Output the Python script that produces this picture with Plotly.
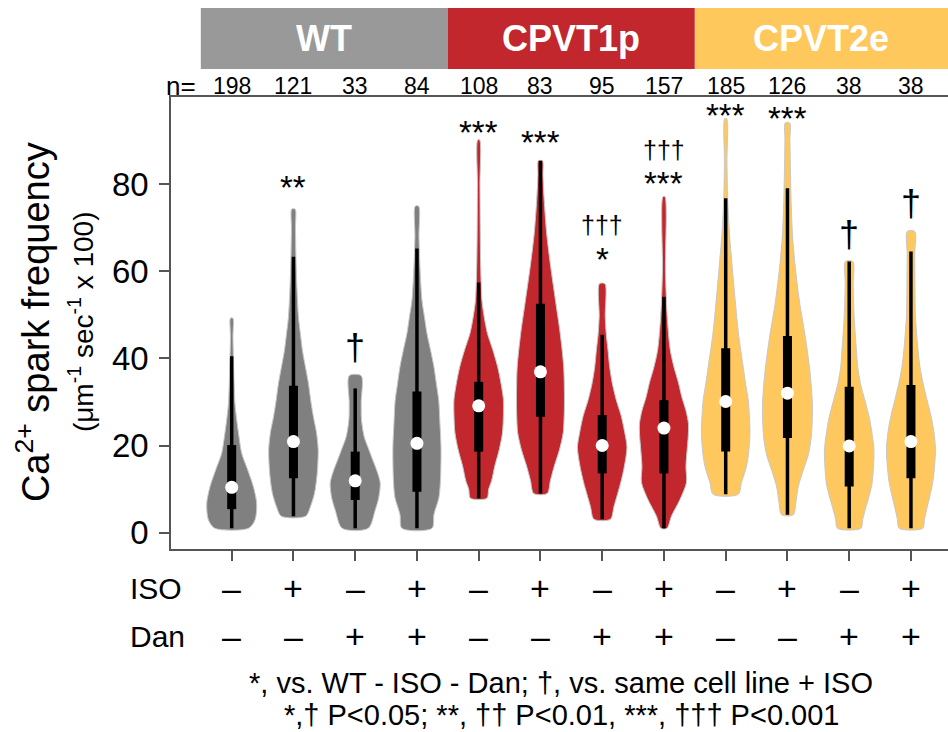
import plotly.graph_objects as go

# ---------------- data ----------------
groups = ["WT", "CPVT1p", "CPVT2e"]
n_counts = [198, 121, 33, 84, 108, 83, 95, 157, 185, 126, 38, 38]
iso_signs = ["–", "+", "–", "+", "–", "+", "–", "+", "–", "+", "–", "+"]
dan_signs = ["–", "–", "+", "+", "–", "–", "+", "+", "–", "–", "+", "+"]

whisker_low = [1.0, 3.8, 1.0, 1.0, 7.9, 9.0, 3.1, 1.0, 8.8, 4.1, 1.0, 1.0]
q1 = [5.4, 12.5, 7.5, 9.4, 18.6, 26.6, 13.6, 13.6, 18.6, 21.7, 10.6, 12.5]
median = [10.4, 20.9, 11.9, 20.5, 29.1, 36.9, 20.0, 24.0, 30.1, 32.0, 19.9, 20.9]
q3 = [20.1, 33.7, 18.6, 32.4, 34.6, 52.5, 27.0, 30.4, 42.3, 45.1, 33.5, 33.9]
whisker_high = [40.5, 63.3, 33.1, 65.2, 57.4, 85.3, 45.4, 54.1, 76.7, 79.0, 62.2, 64.5]

# violin outlines: value levels and relative density (half-width) at each level
profile_y = [
    [1.0, 2.9, 6.6, 10.5, 14.4, 18.2, 22.1, 25.9, 29.7, 37.4, 45, 49.2],
    [3.8, 6, 9, 13, 19, 23, 26.5, 30, 34.2, 38, 41.8, 45.5, 49.5, 56, 63, 70, 74.2],
    [1.0, 5.2, 8, 11.4, 14, 17, 19, 22, 26, 30, 36],
    [1.0, 4.2, 8.1, 12, 16, 20, 25, 30.4, 34, 38, 42, 45.7, 49.5, 53.3, 61, 68, 74.9],
    [7.9, 10, 12, 15.2, 19, 22.9, 27, 30.5, 34, 38, 42, 45.7, 49.5, 53.3, 61, 70, 80, 90.1],
    [9.0, 12, 15.2, 19, 22.9, 27, 30.5, 38, 45.7, 53.3, 61, 68.6, 76.3, 82, 85.3],
    [3.1, 6, 9, 11.7, 15, 19.6, 23, 26.8, 30.5, 34.4, 38, 42, 45.7, 49.7, 57.1],
    [1.0, 3.8, 7.6, 11.5, 15.2, 19.2, 22, 25, 28, 31, 34.4, 38, 42, 49.7, 60, 77.1],
    [8.8, 11.5, 15.2, 18.5, 22.9, 26.5, 30.5, 34, 38, 45.7, 53.3, 61, 68.6, 76.3, 85, 95],
    [4.1, 7, 10.5, 14.3, 18, 21.9, 25.5, 29.4, 33, 37, 44.7, 52.3, 60, 67.6, 75.3, 83, 90, 94],
    [1.0, 3, 5.9, 8.5, 11.2, 15, 18.9, 22.5, 26.5, 30.5, 34.2, 38, 41.8, 49.5, 57, 62.2],
    [1.0, 3, 5.9, 8.5, 11.5, 15, 19.2, 23, 26.8, 30.5, 34.4, 38, 42, 49.7, 57.3, 64, 69.1],
]
profile_density = [
    [0.67, 0.93, 1.0, 0.87, 0.64, 0.40, 0.29, 0.20, 0.13, 0.08, 0.05, 0.05],
    [0.49, 0.68, 0.84, 0.94, 0.99, 0.92, 0.80, 0.70, 0.60, 0.48, 0.36, 0.28, 0.20, 0.14, 0.10, 0.08, 0.07],
    [0.52, 0.80, 0.94, 1.0, 0.88, 0.68, 0.55, 0.36, 0.25, 0.24, 0.24],
    [0.60, 0.68, 0.88, 0.94, 0.96, 0.96, 0.92, 0.87, 0.78, 0.68, 0.54, 0.40, 0.30, 0.20, 0.12, 0.08, 0.07],
    [0.33, 0.40, 0.52, 0.64, 0.82, 0.95, 0.99, 0.99, 0.90, 0.76, 0.56, 0.35, 0.22, 0.13, 0.08, 0.06, 0.05, 0.04],
    [0.27, 0.40, 0.55, 0.76, 0.91, 0.95, 0.96, 0.93, 0.79, 0.60, 0.41, 0.25, 0.15, 0.10, 0.08],
    [0.33, 0.47, 0.62, 0.75, 0.88, 0.99, 0.90, 0.76, 0.56, 0.40, 0.30, 0.23, 0.16, 0.12, 0.11],
    [0.12, 0.30, 0.64, 0.90, 0.88, 0.93, 0.97, 0.98, 0.88, 0.72, 0.58, 0.40, 0.25, 0.13, 0.06, 0.04],
    [0.50, 0.63, 0.83, 0.92, 0.97, 0.95, 0.90, 0.80, 0.70, 0.51, 0.38, 0.26, 0.15, 0.08, 0.05, 0.04],
    [0.23, 0.34, 0.43, 0.63, 0.84, 0.95, 0.99, 1.0, 0.96, 0.90, 0.72, 0.50, 0.33, 0.21, 0.15, 0.12, 0.10, 0.09],
    [0.47, 0.54, 0.67, 0.80, 0.91, 0.97, 0.99, 0.92, 0.80, 0.62, 0.45, 0.34, 0.29, 0.20, 0.16, 0.15],
    [0.47, 0.54, 0.65, 0.76, 0.87, 0.94, 0.98, 0.92, 0.80, 0.64, 0.48, 0.36, 0.28, 0.18, 0.16, 0.15, 0.15],
]

# significance marks: which violin (1-based), text
sig_index = [2, 3, 5, 6, 7, 7, 8, 8, 9, 10, 11, 12]
sig_text = ["**", "†", "***", "***", "†††", "*", "†††", "***", "***", "***", "†", "†"]

footnote_1 = "*, vs. WT - ISO - Dan; †, vs. same cell line + ISO"
footnote_2 = "*,† P<0.05; **, †† P<0.01, ***, ††† P<0.001"
y_ticks = [0, 20, 40, 60, 80]

# ---------------- layout constants ----------------
FONT = "Liberation Sans, Arial, Helvetica, sans-serif"
header_colors = ["#999999", "#C1272D", "#FFC85C"]
violin_colors = ["#808080"] * 4 + ["#C1272D"] * 4 + ["#FEC85E"] * 4
positions = list(range(1, 13))
half_width = 0.405
x_range = [0.017, 12.6]
y_range = [-3.74, 99.95]
sig_y = [79.1, 42.6, 91.9, 89.4, 70.6, 62.7, 87.8, 80.2, 95.6, 95.1, 68.3, 75.6]

fig = go.Figure()

# violins
for i, p in enumerate(positions):
    ys = profile_y[i]
    ds = profile_density[i]
    xs_r = [p + d * half_width for d in ds]
    xs_l = [p - d * half_width for d in reversed(ds)]
    fig.add_trace(go.Scatter(
        x=xs_r + xs_l + [xs_r[0]],
        y=ys + list(reversed(ys)) + [ys[0]],
        mode="lines", fill="toself", fillcolor=violin_colors[i],
        line=dict(color="#c8c8c8", width=1, shape="spline", smoothing=0.8),
        hoverinfo="skip", showlegend=False,
    ))

# whiskers and boxes
wx, wy = [], []
bx, by = [], []
for i, p in enumerate(positions):
    wx += [p, p, None]
    wy += [whisker_low[i], whisker_high[i], None]
    bx += [p, p, None]
    by += [q1[i], q3[i], None]
fig.add_trace(go.Scatter(x=wx, y=wy, mode="lines", line=dict(color="black", width=3.5),
                         hoverinfo="skip", showlegend=False))
fig.add_trace(go.Scatter(x=bx, y=by, mode="lines", line=dict(color="black", width=9),
                         hoverinfo="skip", showlegend=False))
fig.add_trace(go.Scatter(x=positions, y=median, mode="markers",
                         marker=dict(color="white", size=13, line=dict(width=0)),
                         hoverinfo="skip", showlegend=False))

annotations = []
# significance marks
for idx, txt, yv in zip(sig_index, sig_text, sig_y):
    if "†" in txt:
        size = 36 if len(txt) == 1 else 25
    else:
        size = 33
    annotations.append(dict(x=idx, y=yv, xref="x", yref="y", text=txt, showarrow=False,
                            font=dict(family=FONT, size=size, color="black"),
                            xanchor="center", yanchor="middle"))

# header bars
bounds = [0.5, 4.5, 8.5, 12.6]
shapes = []
for g in range(3):
    shapes.append(dict(type="rect", xref="x", yref="paper", x0=bounds[g], x1=bounds[g + 1],
                       y0=1.062, y1=1.197, fillcolor=header_colors[g], line=dict(width=0),
                       layer="above"))
    annotations.append(dict(x=(bounds[g] + bounds[g + 1]) / 2, y=1.1295, xref="x", yref="paper",
                            text="<b>%s</b>" % groups[g], showarrow=False,
                            font=dict(family=FONT, size=36, color="white"),
                            xanchor="center", yanchor="middle"))

# n row
annotations.append(dict(x=0.013, y=1.0243, xref="paper", yref="paper", text="n=",
                        showarrow=False, font=dict(family=FONT, size=26, color="black"),
                        xanchor="center", yanchor="middle"))
for p, n in zip(positions, n_counts):
    annotations.append(dict(x=p, y=1.0243, xref="x", yref="paper", text=str(n), showarrow=False,
                            font=dict(family=FONT, size=23, color="black"),
                            xanchor="center", yanchor="middle"))

# ISO / Dan rows
for label, signs, yp in (("ISO", iso_signs, -0.0863), ("Dan", dan_signs, -0.1925)):
    annotations.append(dict(x=-0.0553, y=yp, xref="paper", yref="paper", text=label,
                            showarrow=False, font=dict(family=FONT, size=30, color="black"),
                            xanchor="left", yanchor="middle"))
    for p, s in zip(positions, signs):
        annotations.append(dict(x=p, y=yp, xref="x", yref="paper", text=s, showarrow=False,
                                font=dict(family=FONT, size=34, color="black"),
                                xanchor="center", yanchor="middle"))

# footnotes
annotations.append(dict(x=0.502, y=-0.2965, xref="paper", yref="paper", text=footnote_1,
                        showarrow=False, font=dict(family=FONT, size=29, color="black"),
                        xanchor="center", yanchor="middle"))
annotations.append(dict(x=0.502, y=-0.3673, xref="paper", yref="paper", text=footnote_2,
                        showarrow=False, font=dict(family=FONT, size=29, color="black"),
                        xanchor="center", yanchor="middle"))

# y-axis title (two lines)
annotations.append(dict(x=-0.1776, y=0.502, xref="paper", yref="paper",
                        text="Ca<sup>2+</sup> spark frequency", textangle=-90, showarrow=False,
                        font=dict(family=FONT, size=38, color="black"),
                        xanchor="center", yanchor="middle"))
annotations.append(dict(x=-0.1158, y=0.502, xref="paper", yref="paper",
                        text="(μm<sup>-1</sup> sec<sup>-1</sup> x 100)", textangle=-90,
                        showarrow=False, font=dict(family=FONT, size=28, color="black"),
                        xanchor="center", yanchor="middle"))

fig.update_layout(
    width=948, height=732,
    margin=dict(l=171, r=0, t=97, b=183, pad=0),
    paper_bgcolor="white", plot_bgcolor="white",
    showlegend=False,
    font=dict(family=FONT, color="black"),
    xaxis=dict(range=x_range, showgrid=False, zeroline=False, showline=True, mirror=True,
               linecolor="#555555", linewidth=1.5, ticks="outside", tickvals=positions,
               ticklen=10, tickwidth=1.5, tickcolor="#555555", showticklabels=False),
    yaxis=dict(range=y_range, showgrid=False, zeroline=False, showline=True,
               linecolor="#555555", linewidth=1.5, ticks="outside", tickvals=y_ticks,
               ticklen=10, tickwidth=1.5, tickcolor="#555555", ticklabelstandoff=4,
               tickfont=dict(family=FONT, size=33, color="black")),
    shapes=shapes,
    annotations=annotations,
)

fig.write_html("out.html", config={"displayModeBar": False},
               post_script="document.body.style.margin='0px';")
